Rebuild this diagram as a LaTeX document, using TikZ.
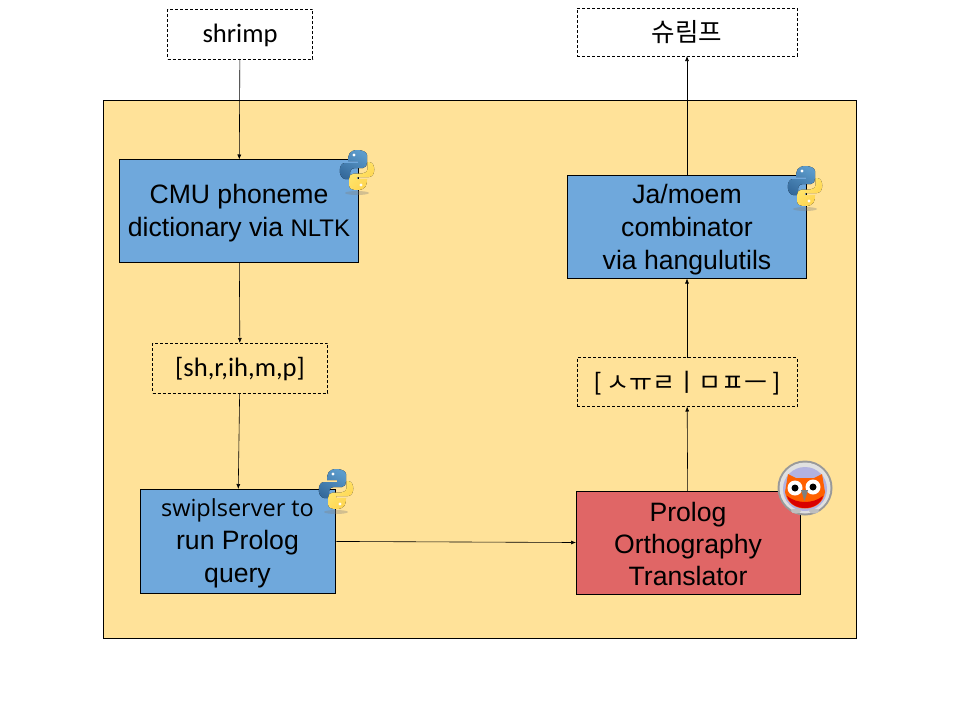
\documentclass[tikz,border=0pt]{standalone}
\usepackage{fontspec}
\setmainfont{Liberation Sans}
\newfontfamily\calfont{Carlito}
\newfontfamily\segfont{Open Sans}
\newfontfamily\cjkfont{Noto Sans CJK KR}
\usetikzlibrary{arrows.meta}
\definecolor{panel}{HTML}{FFE299}
\definecolor{bluebox}{HTML}{6FA8DC}
\definecolor{redbox}{HTML}{E06666}
\definecolor{pya}{HTML}{5C9BCB}
\definecolor{pyb}{HTML}{356A9C}
\definecolor{pyc}{HTML}{FFE873}
\definecolor{pyd}{HTML}{FFD24A}
\tikzset{
  x=1pt,y=-1pt,
  px/.style={inner sep=0pt,outer sep=0pt,draw=black,line width=0.7pt},
  proc/.style={px},
  dash box/.style={px,dashed,dash pattern=on 3pt off 2pt},
  proc text/.style={inner sep=0pt,align=center,font=\fontsize{26.6}{33}\selectfont},
  dash text/.style={inner sep=0pt,font=\calfont\fontsize{26.6}{30}\selectfont},
  conn/.style={draw=black,line width=0.6pt,-{Latex[length=5pt,width=4pt]}},
}
\newcommand{\snake}[2]{%
  \begin{scope}[shift={(#1,#2)}]
    \fill[black!50,opacity=.35] (0,24) ellipse[x radius=12,y radius=2];
    \fill[left color=pya,right color=pyb,shading angle=-30] (1,-19) .. controls (-8,-19) and (-9,-14) .. (-9,-8) -- (1,-8) -- (1,-6) -- (-12,-6) .. controls (-19,-6) and (-19,9) .. (-12,10) -- (-7,10) -- (-7,3) .. controls (-7,0) and (-4,-1) .. (-2,-1) -- (6,-1) .. controls (9,-1) and (10,-4) .. (10,-7) -- (10,-14) .. controls (10,-17) and (5,-19) .. (1,-19) -- cycle;
    \fill[left color=pyc,right color=pyd,shading angle=45] (0,21) .. controls (9,21) and (10,16) .. (10,10) -- (0,10) -- (0,8) -- (12,8) .. controls (19,8) and (19,-7) .. (12,-7) -- (10.5,-7) -- (10.5,0) .. controls (10.5,3) and (7,4.5) .. (5,4.5) -- (-3,4.5) .. controls (-6,4.5) and (-8,7) .. (-8,10) -- (-8,16) .. controls (-8,20) and (-4,21) .. (0,21) -- cycle;
    \fill[white] (-3,-14) circle[radius=1.7] (4,16) circle[radius=1.7];
  \end{scope}}
\begin{document}
\begin{tikzpicture}
\useasboundingbox (0,0) rectangle (960,720);
\fill[white] (0,0) rectangle (960,720);
\node[px,fill=panel,minimum width=753.5pt,minimum height=538pt,anchor=north west] (panel) at (103,100) {};
\node[dash box,minimum width=145pt,minimum height=50pt] (in) at (240,34) {};
\node[dash text] (intext) at ([yshift=-1.5pt]in.center) {shrimp};
\node[dash box,minimum width=220pt,minimum height=48pt] (out) at (687,32) {};
\node[inner sep=0pt,font=\cjkfont\fontsize{25.5}{28}\selectfont] (outtext) at (out.center) {슈림프};
\node[proc,fill=bluebox,minimum width=239pt,minimum height=103pt] (cmu) at (239,211) {};
\node[proc text] (cmutext) at ([yshift=-2pt]cmu.center) {CMU phoneme\\dictionary via {\fontsize{24}{32}\selectfont NLTK}};
\node[dash box,minimum width=175pt,minimum height=50pt] (ph) at (240,368) {};
\node[dash text] (phtext) at ([yshift=-1.5pt]ph.center) {[sh,r,ih,m,p]};
\node[proc,fill=bluebox,minimum width=195pt,minimum height=104pt] (swi) at (237.5,541) {};
\node[proc text] (switext) at ([yshift=-2pt]swi.center) {{\segfont\fontsize{23.5}{33}\selectfont swiplserver to}\\run Prolog\\query};
\node[proc,fill=redbox,minimum width=224pt,minimum height=103pt] (pl) at (688,543) {};
\node[proc text,font=\fontsize{26.6}{32}\selectfont] (pltext) at ([yshift=-1pt]pl.center) {Prolog\\Orthography\\Translator};
\node[dash box,minimum width=220pt,minimum height=49pt] (jm) at (687,382) {};
\node[dash text] (jmtext) at ([yshift=-1.5pt]jm.center) {[\,{\cjkfont\fontsize{25}{28}\selectfont ㅅㅠㄹㅣㅁㅍㅡ}\,]};
\node[proc,fill=bluebox,minimum width=239pt,minimum height=103pt] (ja) at (687,227) {};
\node[proc text] (jatext) at ([yshift=-3pt]ja.center) {Ja/moem\\combinator\\via hangulutils};
\draw[conn] (in) -- (cmu);
\draw[conn] (cmu) -- (ph);
\draw[conn] (ph) -- (swi);
\draw[conn] (swi) -- (pl);
\draw[conn] (pl) -- (jm);
\draw[conn] (jm) -- (ja);
\draw[conn] (ja) -- (out);
\snake{357}{169}
\snake{805}{185}
\snake{336}{488}
\begin{scope}[shift={(805,488)}]
  \fill[black!40] (0,0) circle[radius=27.5];
  \fill[black!12] (0,0) circle[radius=25.5];
  \fill[black!40!blue!30] (0,1) circle[radius=22];
  \fill[orange!75!red] (-17,-14) -- (-9,-10) -- (9,-10) -- (17,-14) -- (20,4) .. controls (17,26) and (-17,26) .. (-20,4) -- cycle;
  \fill[red!85!black] (-18,8) .. controls (-14,24) and (14,24) .. (18,8) .. controls (8,16) and (-8,16) .. (-18,8) -- cycle;
  \fill[white] (-10,0) circle[radius=7.5] (8,-1) circle[radius=7.5];
  \fill[black] (-10,0) circle[radius=3.5] (8,-1) circle[radius=3.5];
  \fill[black!50] (-4,2) -- (3,2) -- (-0.5,13) -- cycle;
  \fill[black!25] (-9,23) ellipse[x radius=5,y radius=2.5] (9,23) ellipse[x radius=5,y radius=2.5];
\end{scope}
\end{tikzpicture}
\end{document}
